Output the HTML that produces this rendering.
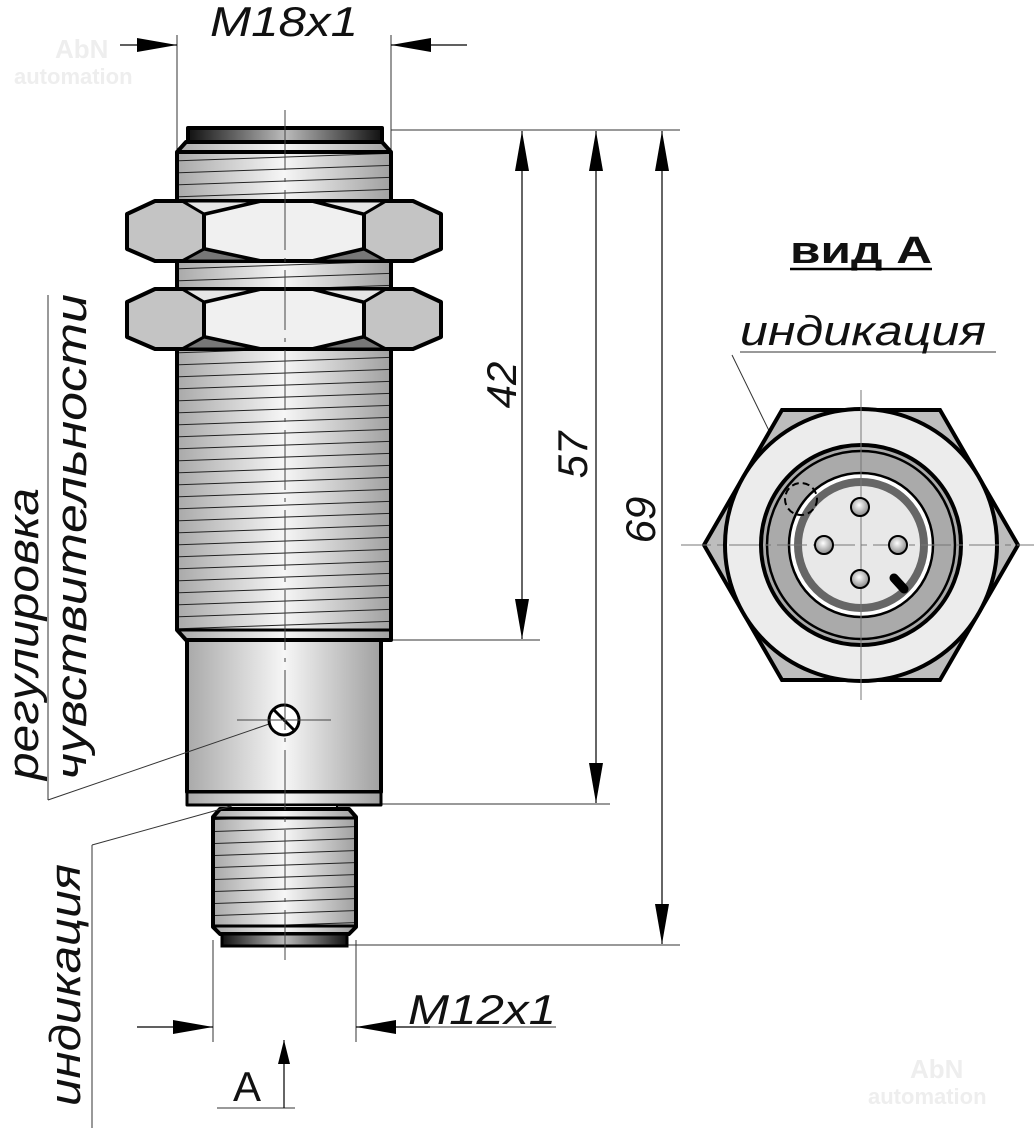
<!DOCTYPE html>
<html><head><meta charset="utf-8"><style>
html,body{margin:0;padding:0;background:#fff}
svg{display:block}
text{font-family:"Liberation Sans",sans-serif;font-style:italic;fill:#111}
</style></head><body>
<svg width="1034" height="1131" viewBox="0 0 1034 1131" xmlns="http://www.w3.org/2000/svg">
<defs>
<linearGradient id="cyl" x1="0" x2="1" y1="0" y2="0">
<stop offset="0" stop-color="#a9a9a9"/><stop offset="0.5" stop-color="#f6f6f6"/><stop offset="1" stop-color="#a0a0a0"/>
</linearGradient>
<linearGradient id="cap" x1="0" x2="1"><stop offset="0" stop-color="#111"/><stop offset="0.5" stop-color="#bbb"/><stop offset="1" stop-color="#111"/></linearGradient>
<pattern id="thr" width="400" height="12" patternUnits="userSpaceOnUse" patternTransform="skewY(-2)">
<line x1="0" y1="11" x2="400" y2="11" stroke="#222" stroke-width="1.1"/>
</pattern>
<radialGradient id="pin" cx="0.45" cy="0.4" r="0.6"><stop offset="0" stop-color="#fff"/><stop offset="1" stop-color="#888"/></radialGradient>
<marker id="ar" viewBox="0 0 40 14" refX="40" refY="7" markerWidth="40" markerHeight="14" markerUnits="userSpaceOnUse" orient="auto"><path d="M0,0 L40,7 L0,14 z" fill="#000"/></marker>
<marker id="ars" viewBox="0 0 24 12" refX="24" refY="6" markerWidth="24" markerHeight="12" markerUnits="userSpaceOnUse" orient="auto"><path d="M0,0 L24,6 L0,12 z" fill="#000"/></marker>
</defs>

<!-- watermarks -->
<text x="55" y="58" font-size="26" font-weight="bold" style="fill:#eee;font-style:normal">AbN</text>
<text x="14" y="84" font-size="22" font-weight="bold" style="fill:#eee;font-style:normal">automation</text>
<text x="910" y="1078" font-size="26" font-weight="bold" style="fill:#eee;font-style:normal">AbN</text>
<text x="868" y="1104" font-size="22" font-weight="bold" style="fill:#eee;font-style:normal">automation</text>

<!-- extension lines -->
<g stroke="#333" stroke-width="1" fill="none">
<line x1="177" y1="35" x2="177" y2="150"/>
<line x1="391" y1="35" x2="391" y2="150"/>
<line x1="391" y1="130" x2="680" y2="130"/>
<line x1="381" y1="640" x2="540" y2="640"/>
<line x1="381" y1="804" x2="610" y2="804"/>
<line x1="348" y1="945" x2="680" y2="945"/>
<line x1="213" y1="940" x2="213" y2="1042"/>
<line x1="356" y1="940" x2="356" y2="1042"/>
<line x1="356" y1="1027" x2="556" y2="1027"/>
<line x1="217" y1="1108" x2="295" y2="1108"/>
<line x1="740" y1="352" x2="996" y2="352"/>
<line x1="732" y1="355" x2="797" y2="488"/>
</g>
<!-- dim arrows -->
<g stroke="#000" stroke-width="1.2">
<line x1="120" y1="45" x2="177" y2="45" marker-end="url(#ar)"/>
<line x1="467" y1="45" x2="391" y2="45" marker-end="url(#ar)"/>
<line x1="137" y1="1027" x2="213" y2="1027" marker-end="url(#ar)"/>
<line x1="430" y1="1027" x2="356" y2="1027" marker-end="url(#ar)"/>
<line x1="522" y1="385" x2="522" y2="131" marker-end="url(#ar)"/>
<line x1="522" y1="385" x2="522" y2="639" marker-end="url(#ar)"/>
<line x1="596" y1="460" x2="596" y2="131" marker-end="url(#ar)"/>
<line x1="596" y1="460" x2="596" y2="803" marker-end="url(#ar)"/>
<line x1="662" y1="520" x2="662" y2="131" marker-end="url(#ar)"/>
<line x1="662" y1="520" x2="662" y2="944" marker-end="url(#ar)"/>
<line x1="284" y1="1108" x2="284" y2="1040" marker-end="url(#ars)"/>
</g>

<!-- texts -->
<text x="210" y="36" font-size="42" textLength="148" lengthAdjust="spacingAndGlyphs">M18x1</text>
<text x="408" y="1024" font-size="42" textLength="148" lengthAdjust="spacingAndGlyphs">M12x1</text>
<text x="233" y="1101" font-size="42" style="font-style:normal">A</text>
<text transform="translate(516,385) rotate(-90)" font-size="42" text-anchor="middle">42</text>
<text transform="translate(587,455) rotate(-90)" font-size="42" text-anchor="middle">57</text>
<text transform="translate(655,520) rotate(-90)" font-size="42" text-anchor="middle">69</text>
<text transform="translate(38,780) rotate(-90)" font-size="44" textLength="292" lengthAdjust="spacingAndGlyphs">регулировка</text>
<text transform="translate(86,780) rotate(-90)" font-size="44" textLength="486" lengthAdjust="spacingAndGlyphs">чувствительности</text>
<text transform="translate(80,1106) rotate(-90)" font-size="44" textLength="242" lengthAdjust="spacingAndGlyphs">индикация</text>
<text x="740" y="345" font-size="42" textLength="246" lengthAdjust="spacingAndGlyphs">индикация</text>
<text x="790" y="263" font-size="38" font-weight="bold" style="font-style:normal" textLength="142" lengthAdjust="spacingAndGlyphs">вид А</text>
<line x1="790" y1="269" x2="932" y2="269" stroke="#000" stroke-width="2.5"/>

<!-- SENSOR -->
<g stroke="#000" stroke-width="4" stroke-linejoin="round">
<rect x="188" y="128" width="194" height="14" fill="url(#cap)"/>
<path d="M186,142 L382,142 L391,152 L391,640 L382,640 L186,640 L177,630 L177,152 Z" fill="url(#cyl)"/>
</g>
<rect x="179" y="152" width="210" height="478" fill="url(#thr)"/>
<g stroke="#000" stroke-width="4" stroke-linejoin="round">
<path d="M177,152 L391,152" fill="none"/>
<path d="M177,630 L391,630" fill="none" stroke-width="3"/>
<g id="nut">
<path d="M155,201 L413,201 L441,214 L441,249 L413,261 L155,261 L127,249 L127,214 Z" fill="#c4c4c4"/>
<path d="M204,214 L260,201 L313,201 L364,214 L364,249 L313,261 L260,261 L204,249 Z" fill="#f0f0f0"/>
<path d="M204,214 L182,201 L260,201 Z M364,214 L386,201 L313,201 Z" fill="#e6e6e6" stroke-width="3"/>
<path d="M204,249 L182,261 L260,261 Z M364,249 L386,261 L313,261 Z" fill="#777" stroke-width="3"/>
</g>
<use href="#nut" transform="translate(0,88)"/>
<rect x="187" y="640" width="194" height="152" fill="url(#cyl)"/>
<rect x="187" y="792" width="194" height="13" fill="url(#cyl)" stroke-width="3"/>
<rect x="230" y="805" width="107" height="4" fill="#ddd" stroke-width="2"/>
<path d="M220,809 L349,809 L356,817 L356,927 L349,934 L220,934 L213,927 L213,817 Z" fill="url(#cyl)"/>
</g>
<rect x="215" y="818" width="139" height="108" fill="url(#thr)"/>
<g stroke="#000" stroke-width="3">
<line x1="213" y1="818" x2="356" y2="818"/>
<line x1="213" y1="926" x2="356" y2="926"/>
<rect x="222" y="934" width="125" height="12" fill="url(#cap)"/>
</g>
<!-- leaders over body -->
<g stroke="#333" stroke-width="1" fill="none">
<line x1="272" y1="723" x2="48" y2="800"/>
<line x1="48" y1="800" x2="48" y2="295"/>
<line x1="232" y1="806" x2="92" y2="845"/>
<line x1="92" y1="845" x2="92" y2="1128"/>
</g>
<circle cx="284" cy="720" r="15" fill="#fff" stroke="#000" stroke-width="3"/>
<line x1="274" y1="710" x2="294" y2="730" stroke="#000" stroke-width="3"/>
<g stroke="#444" stroke-width="1">
<line x1="237" y1="720" x2="331" y2="720"/>
<line x1="285" y1="110" x2="285" y2="960" stroke-dasharray="60,8,4,8"/>
</g>

<!-- VIEW A -->
<g stroke="#000" stroke-width="4">
<path d="M782,410 L940,410 L1018,545 L940,680 L782,680 L704,545 Z" fill="#bdbdbd"/>
<circle cx="861" cy="545" r="136" fill="#ececec"/>
<circle cx="861" cy="545" r="100" fill="#aaa"/>
<circle cx="861" cy="545" r="94" fill="none" stroke-width="2.5"/>
<circle cx="861" cy="545" r="72" fill="#fff" stroke-width="2.5"/>
<circle cx="861" cy="545" r="63" fill="#e8e8e8" stroke="#666" stroke-width="8"/>
</g>
<g stroke="#777" stroke-width="1">
<line x1="681" y1="545" x2="1034" y2="545" stroke-dasharray="30,6,6,6"/>
<line x1="861" y1="390" x2="861" y2="700"/>
</g>
<g stroke="#000" stroke-width="2" fill="url(#pin)">
<circle cx="860" cy="507" r="9"/><circle cx="824" cy="545" r="9"/>
<circle cx="898" cy="545" r="9"/><circle cx="860" cy="579" r="9"/>
</g>
<line x1="894" y1="578" x2="904" y2="589" stroke="#000" stroke-width="9" stroke-linecap="round"/>
<circle cx="801" cy="499" r="16" fill="none" stroke="#000" stroke-width="2" stroke-dasharray="7,4"/>
</svg>
</body></html>
